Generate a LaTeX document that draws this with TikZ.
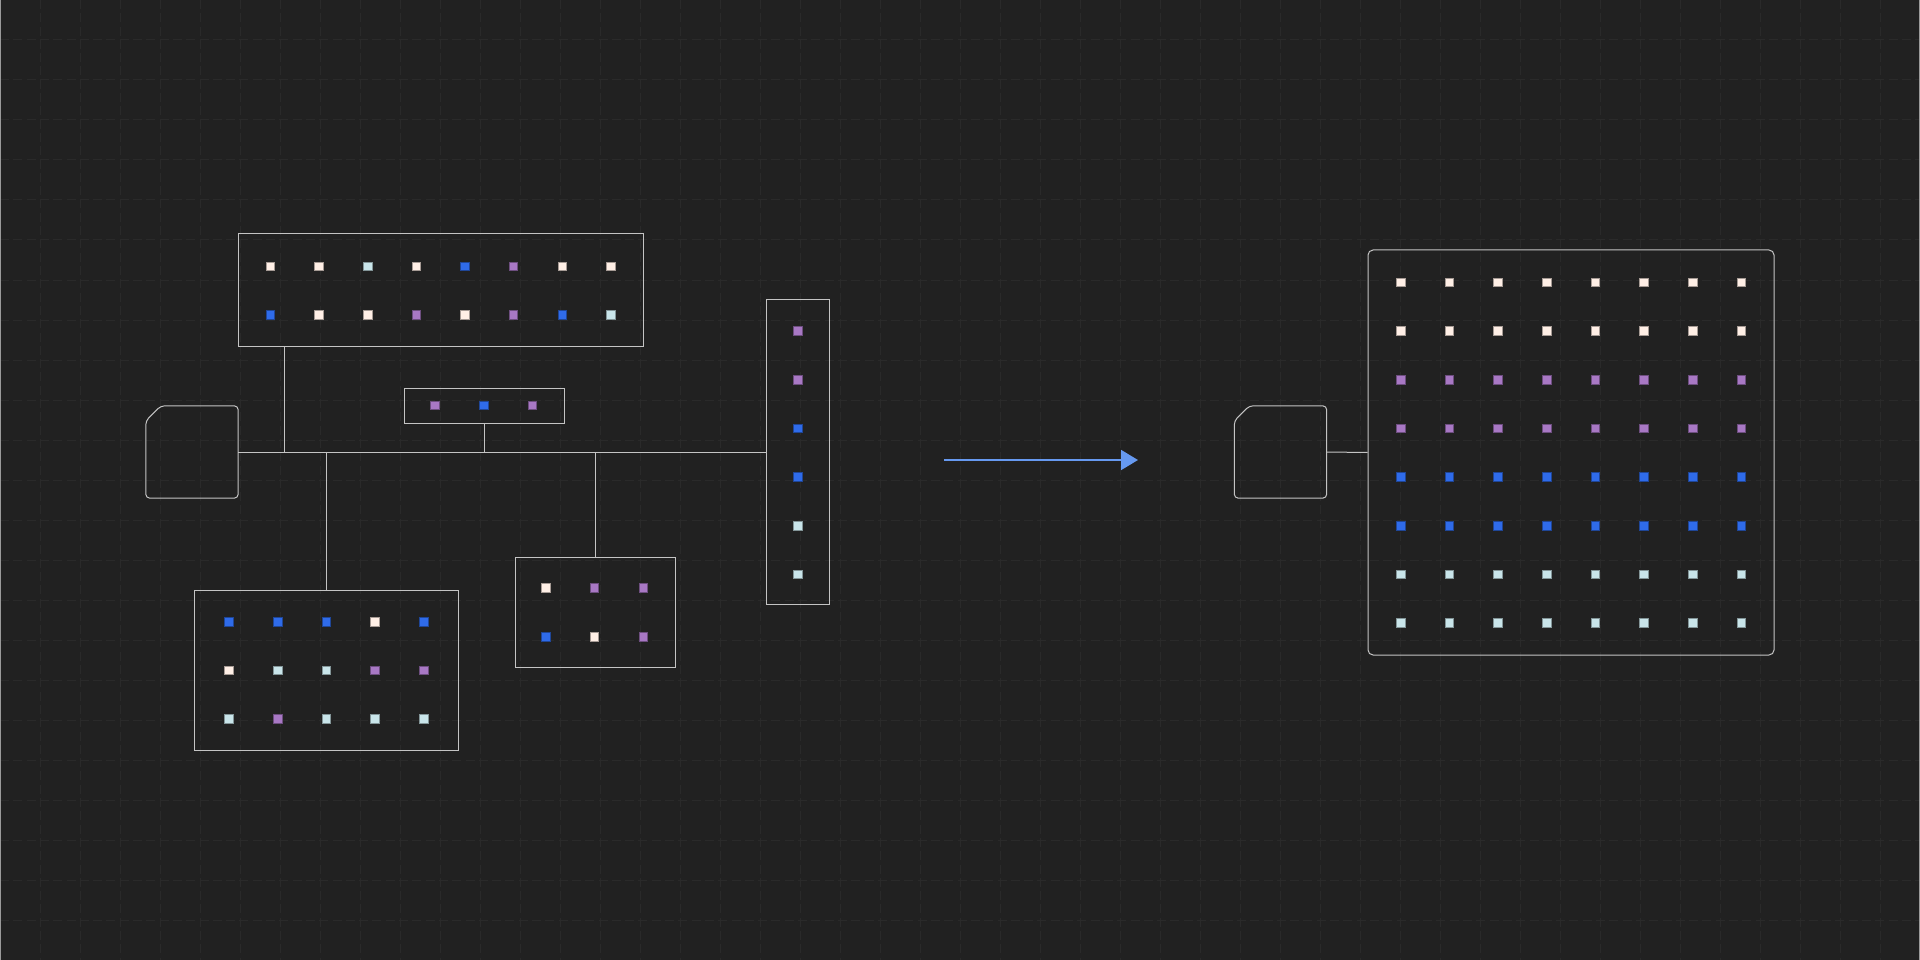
\documentclass[tikz,border=0pt]{standalone}
\usetikzlibrary{calc,arrows.meta}
\definecolor{bgGray}{HTML}{212121}
\definecolor{gridGray}{HTML}{2A2A2A}
\definecolor{edgeGray}{HTML}{9A9A9A}
\definecolor{frameGray}{HTML}{C4C4C4}
\definecolor{cream}{HTML}{FFEFE6}
\definecolor{ice}{HTML}{C9E5EA}
\definecolor{blue}{HTML}{2F6BE9}
\definecolor{purple}{HTML}{A878C4}
\definecolor{arrBlue}{HTML}{6699F0}
\newcommand\drawDots[6]{% x0, y0, dx, dy, name prefix, colours
\foreach \cc [count=\i] in {#6} {
\node[Dot, fill=\cc, draw=\cc!65!black] (#5\i) at ({#1+(\i-1)*#3}, {#2+(\i-1)*#4}) {};
}
}
\newcommand\drawChip[3]{% x, y, name
\node[ChipBox] (#3) at (#1,#2) {};
\draw[frame, rounded corners=4pt] ($(#3.north west)+(15,0)$) -- (#3.north east) -- (#3.south east)
-- (#3.south west) -- ($(#3.north west)+(0,15)$) -- cycle;
}

\begin{document}
\begin{tikzpicture}[x=1pt, y=-1pt,
			frame/.style={draw=frameGray, line width=1pt},
			Box/.style={rectangle, frame, inner sep=0pt},
			ChipBox/.style={rectangle, minimum size=92pt, inner sep=0pt, draw=none},
			Dot/.style={rectangle, minimum size=8.5pt, inner sep=0pt, line width=0.6pt},
			gridl/.style={draw=gridGray, line width=1pt, dash pattern=on 9pt off 4.3pt},
			arr/.style={draw=arrBlue, line width=1.6pt, -{Triangle[length=17pt, width=20pt]}}]

			% background and grid
			\useasboundingbox (0,0) rectangle (1920,960);
			\fill[bgGray] (0,0) rectangle (1920,960);
			\foreach \x in {40,80,...,1880} \draw[gridl] (\x,0) -- (\x,960);
			\foreach \y in {40,80,...,920} \draw[gridl] (0,\y) -- (1920,\y);
			\draw[edgeGray, line width=1.2pt] (0.6,0) -- (0.6,960);
			\draw[edgeGray, line width=1.2pt] (1919.4,0) -- (1919.4,960);

			% drawing chips
			\drawChip{192}{452}{chipL}
			\drawChip{1280.5}{452}{chipR}

			% drawing boxes on the left
			\node[Box, minimum width=405pt, minimum height=112pt] (topbox) at (440.5,290) {};
			\node[Box, minimum width=160pt, minimum height=35pt] (smallbox) at (484,405.5) {};
			\node[Box, minimum width=264pt, minimum height=160pt] (llbox) at (326,670.5) {};
			\node[Box, minimum width=160pt, minimum height=110pt] (lmbox) at (595,612) {};
			\node[Box, minimum width=63pt, minimum height=305pt] (vbox) at (797.5,452) {};

			% drawing big box on the right
			\node[Box, rounded corners=5pt, minimum width=406pt, minimum height=405pt] (bigbox) at (1571,452.5) {};

			% drawing dots
			\drawDots{270.3}{266.3}{48.63}{0}{ta}{cream,cream,ice,cream,blue,purple,cream,cream}
			\drawDots{270.3}{315}{48.63}{0}{tb}{blue,cream,cream,purple,cream,purple,blue,ice}
			\drawDots{435}{405.3}{48.66}{0}{sa}{purple,blue,purple}
			\drawDots{229}{621.7}{48.66}{0}{la}{blue,blue,blue,cream,blue}
			\drawDots{229}{670.3}{48.66}{0}{lb}{cream,ice,ice,purple,purple}
			\drawDots{229}{719}{48.66}{0}{lc}{ice,purple,ice,ice,ice}
			\drawDots{545.7}{588}{48.8}{0}{ma}{cream,purple,purple}
			\drawDots{545.7}{636.7}{48.8}{0}{mb}{blue,cream,purple}
			\drawDots{798}{331}{0}{48.66}{va}{purple,purple,blue,blue,ice,ice}
			\foreach \rc [count=\r] in {cream,cream,purple,purple,blue,blue,ice,ice}
				\drawDots{1400.7}{282.3+(\r-1)*48.66}{48.66}{0}{g\r-}{\rc,\rc,\rc,\rc,\rc,\rc,\rc,\rc};

			% drawing connectors
			\draw[frame] (chipL.east) -- (vbox.west);
			\coordinate (j1) at (284,452);
			\draw[frame] (topbox.south -| j1) -- (j1);
			\draw[frame] (smallbox.south) -- (smallbox.south |- chipL.east);
			\draw[frame] (llbox.north) -- (llbox.north |- chipL.east);
			\draw[frame] (lmbox.north) -- (lmbox.north |- chipL.east);
			\draw[frame] (chipR.east) -- (bigbox.west);

			% drawing arrow
			\coordinate (arrS) at (944,460);
			\coordinate (arrE) at (1138,460);
			\draw[arr] (arrS) -- (arrE);

		\end{tikzpicture}
\end{document}
